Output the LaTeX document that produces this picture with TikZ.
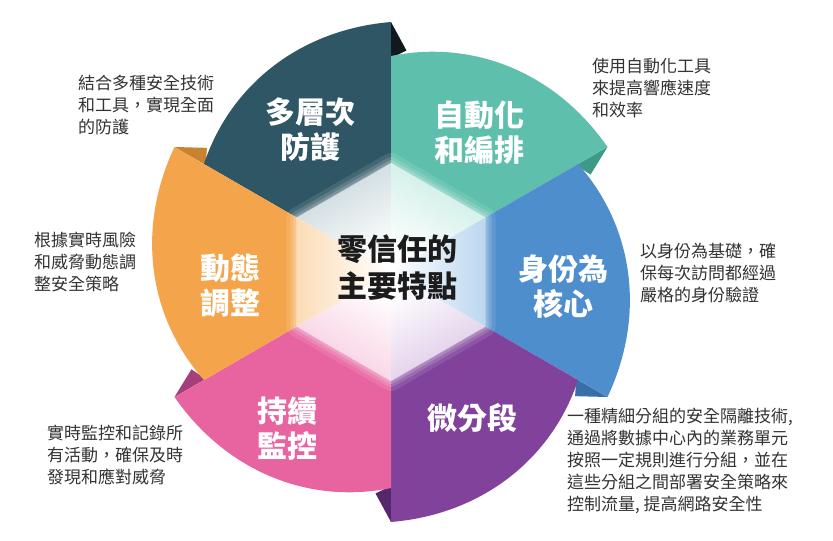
\documentclass[tikz,border=0pt]{standalone}
\usepackage{fontspec}
\newfontfamily\cjk{Noto Sans CJK TC}
\definecolor{cDT}{HTML}{2E5664}
\definecolor{fDT}{HTML}{10191D}
\definecolor{pDT}{HTML}{C5D5DA}
\definecolor{cTE}{HTML}{5EC0AC}
\definecolor{fTE}{HTML}{3C9A86}
\definecolor{pTE}{HTML}{C8ECE3}
\definecolor{cBL}{HTML}{4F8ECC}
\definecolor{fBL}{HTML}{386FA9}
\definecolor{pBL}{HTML}{BCD7F0}
\definecolor{cPU}{HTML}{80429B}
\definecolor{fPU}{HTML}{57276E}
\definecolor{pPU}{HTML}{DCC6E6}
\definecolor{cPK}{HTML}{E864A0}
\definecolor{fPK}{HTML}{A63E7C}
\definecolor{pPK}{HTML}{F7CADF}
\definecolor{cOR}{HTML}{F4A54C}
\definecolor{fOR}{HTML}{C98232}
\definecolor{pOR}{HTML}{FCDDB8}
\definecolor{descgray}{HTML}{333333}
\definecolor{ctrtext}{HTML}{1C1C1C}
\tikzset{
  lab/.style={text=white, font=\cjk\bfseries\fontsize{30}{35}\selectfont, align=center, inner sep=0pt},
  ctr/.style={text=ctrtext, font=\cjk\bfseries\fontsize{30}{37}\selectfont, align=center, inner sep=0pt},
  desc/.style={text=descgray, font=\cjk\fontsize{17}{22}\selectfont, align=left, anchor=west, inner sep=0pt}
}
\begin{document}
\begin{tikzpicture}[x=1pt,y=-1pt]
\useasboundingbox (0,0) rectangle (833,541);
\fill[white] (0,0) rectangle (833,541);
% folds (tails tucked under the next segment)
\foreach \a/\f in {150/fDT,90/fTE,30/fBL,-30/fPU,-90/fPK,-150/fOR}{
  \pgfmathsetmacro\b{\a-60}
  \pgfmathsetmacro\q{\a-64}
  \fill[\f] ({391+250*cos(\b)},{272-250*sin(\b)}) -- ({391+222*cos(\q)},{272-222*sin(\q)}) -- ({391+214*cos(\b)},{272-214*sin(\b)}) -- cycle;
}
% segment bodies
\foreach \a/\c in {150/cDT,90/cTE,30/cBL,-30/cPU,-90/cPK,-150/cOR}{
  \pgfmathsetmacro\b{\a-60}
  \fill[\c] ({391+108*cos(\a)},{272-108*sin(\a)})
    -- plot[domain=0:1, samples=50, variable=\t]
       ({391+(216+34*\t+4*sin(180*\t))*cos(\a-60*\t)},{272-(216+34*\t+4*sin(180*\t))*sin(\a-60*\t)})
    -- ({391+108*cos(\b)},{272-108*sin(\b)}) -- cycle;
}
% glow round the hexagon
\foreach \w/\o in {22/0.10,14/0.14,8/0.18,3/0.3}{
  \draw[white, opacity=\o, line width=\w pt, line join=round]
    ({391+108*cos(90)},{272-108*sin(90)}) -- ({391+108*cos(30)},{272-108*sin(30)})
    -- ({391+108*cos(-30)},{272-108*sin(-30)}) -- ({391+108*cos(-90)},{272-108*sin(-90)})
    -- ({391+108*cos(-150)},{272-108*sin(-150)}) -- ({391+108*cos(150)},{272-108*sin(150)}) -- cycle;
}
% central hexagon, pale towards each edge
\fill[white]
    ({391+108.5*cos(90)},{272-108.5*sin(90)}) -- ({391+108.5*cos(30)},{272-108.5*sin(30)})
    -- ({391+108.5*cos(-30)},{272-108.5*sin(-30)}) -- ({391+108.5*cos(-90)},{272-108.5*sin(-90)})
    -- ({391+108.5*cos(-150)},{272-108.5*sin(-150)}) -- ({391+108.5*cos(150)},{272-108.5*sin(150)}) -- cycle;
\foreach \a/\p in {150/pDT,90/pTE,30/pBL,-30/pPU,-90/pPK,-150/pOR}{
  \pgfmathsetmacro\b{\a-60}
  \pgfmathsetmacro\sa{\a+60}
  \shade[top color=white, middle color=white, bottom color=\p, shading angle=\sa]
    (391,272) -- ({391+108.5*cos(\a)},{272-108.5*sin(\a)}) -- ({391+108.5*cos(\b)},{272-108.5*sin(\b)}) -- cycle;
}
% segment labels
\node[lab] (l1) at (310,130) {多層次\\防護};
\node[lab] (l2) at (479,133) {自動化\\和編排};
\node[lab] (l3) at (563,287) {身份為\\核心};
\node[lab] (l4) at (472,418) {微分段};
\node[lab] (l5) at (287,429) {持續\\監控};
\node[lab] (l6) at (230,286) {動態\\調整};
\node[ctr] (center) at (397,268) {零信任的\\主要特點};
% descriptions
\node[desc] (d1) at (78,105) {結合多種安全技術\\和工具，實現全面\\的防護};
\node[desc] (d2) at (592,88) {使用自動化工具\\來提高響應速度\\和效率};
\node[desc] (d3) at (640,273) {以身份為基礎，確\\保每次訪問都經過\\嚴格的身份驗證};
\node[desc] (d4) at (34,262) {根據實時風險\\和威脅動態調\\整安全策略};
\node[desc] (d5) at (47,455) {實時監控和記錄所\\有活動，確保及時\\發現和應對威脅};
\node[desc] (d6) at (567,461) {一種精細分組的安全隔離技術,\\通過將數據中心內的業務單元\\按照一定規則進行分組，並在\\這些分組之間部署安全策略來\\控制流量, 提高網路安全性};
\end{tikzpicture}
\end{document}
